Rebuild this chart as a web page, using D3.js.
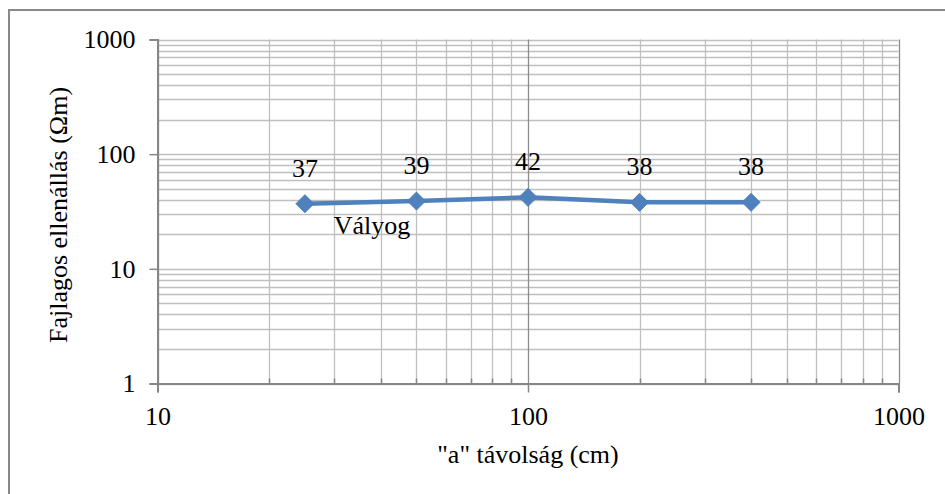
<!DOCTYPE html>
<html><head><meta charset="utf-8">
<script src="https://cdn.jsdelivr.net/npm/d3@7"></script>
<style>
html,body{margin:0;padding:0;background:#fff;}
svg{display:block;}
</style></head>
<body><svg id="chart" width="945" height="494"></svg>
<script>
const distances = [25, 50, 100, 200, 400];
const resistivity = [37, 39, 42, 38, 38];
const seriesName = "Vályog";
const xTickValues = [10, 100, 1000];
const yTickValues = [1, 10, 100, 1000];
const xTitle = '"a" távolság (cm)';
const yTitle = "Fajlagos ellenállás (Ωm)";

const W = 945, H = 494;
const FONT = "26px";
const m = {left: 157.5, right: 898.5, top: 39.5, bottom: 383.5};
const svg = d3.select("#chart");

function styleText(sel) {
  return sel.style("font-family", "'Liberation Serif', 'Times New Roman'").style("font-size", FONT).attr("fill", "#000");
}

svg.append("path").attr("d", `M9,${H} L9,10 L${W},10`).attr("fill","none")
  .attr("stroke","#888").attr("stroke-width",2);

const x = d3.scaleLog().domain([10,1000]).range([m.left, m.right]);
const y = d3.scaleLog().domain([1,1000]).range([m.bottom, m.top]);

const minorX = [], minorY = [];
for (let d = 10; d < 1000; d *= 10) for (let k = 2; k <= 9; k++) minorX.push(d*k);
for (let d = 1; d < 1000; d *= 10) for (let k = 2; k <= 9; k++) minorY.push(d*k);

const grid = svg.append("g");
grid.selectAll(".hy").data(minorY.concat(yTickValues)).join("line")
  .attr("x1", m.left).attr("x2", m.right)
  .attr("y1", d => Math.round(y(d))+0.5).attr("y2", d => Math.round(y(d))+0.5)
  .attr("stroke", "#bfbfbf").attr("stroke-width", 1.3);
grid.selectAll(".vx").data(minorX.concat(xTickValues)).join("line")
  .attr("x1", d => Math.round(x(d))+0.5).attr("x2", d => Math.round(x(d))+0.5)
  .attr("y1", m.top).attr("y2", m.bottom)
  .attr("stroke", d => xTickValues.includes(d) ? "#8c8c8c" : "#bfbfbf")
  .attr("stroke-width", 1.3);

const xAxis = svg.append("g").attr("transform", `translate(0,${m.bottom})`)
  .call(d3.axisBottom(x).tickValues(xTickValues).tickFormat(d3.format("d")).tickSize(9).tickPadding(14));
xAxis.attr("font-family", null).attr("font-size", null);
xAxis.select(".domain").attr("stroke","#868686").attr("stroke-width",2);
xAxis.selectAll(".tick line").attr("stroke","#868686").attr("stroke-width",1.5);
styleText(xAxis.selectAll("text"));
svg.append("g").selectAll("line").data(minorX).join("line")
  .attr("x1", d => Math.round(x(d))+0.5).attr("x2", d => Math.round(x(d))+0.5)
  .attr("y1", m.bottom).attr("y2", m.bottom-5)
  .attr("stroke","#868686").attr("stroke-width",1.5);

const yAxis = svg.append("g").attr("transform", `translate(${m.left},0)`)
  .call(d3.axisLeft(y).tickValues(yTickValues).tickFormat(d3.format("d")).tickSize(8).tickPadding(14));
yAxis.attr("font-family", null).attr("font-size", null);
yAxis.select(".domain").attr("stroke","#868686").attr("stroke-width",2);
yAxis.selectAll(".tick line").attr("stroke","#868686").attr("stroke-width",1.5);
styleText(yAxis.selectAll("text"));

const pts = distances.map((d,i) => [d, resistivity[i]]);
svg.append("path").datum(pts)
  .attr("d", d3.line().x(d => x(d[0])).y(d => y(d[1])))
  .attr("fill","none").attr("stroke","#4f81bd").attr("stroke-width",4.5)
  .attr("stroke-linejoin","round");
svg.append("g").selectAll("path").data(pts).join("path")
  .attr("transform", d => `translate(${x(d[0])},${y(d[1])})`)
  .attr("d", "M0,-9 L9,0 L0,9 L-9,0 Z")
  .attr("fill","#4f81bd").attr("stroke","#4a7ebb").attr("stroke-width",1);
styleText(svg.append("g").selectAll("text").data(pts).join("text")
  .attr("x", d => x(d[0])).attr("y", d => y(d[1]) - 27)
  .attr("text-anchor","middle")
  .text(d => d3.format("d")(d[1])));

styleText(svg.append("text").attr("x", 372).attr("y", 234).attr("text-anchor","middle").text(seriesName));

styleText(svg.append("text").attr("x", (m.left+m.right)/2).attr("y", 463).attr("text-anchor","middle").text(xTitle));
styleText(svg.append("text").attr("transform", "translate(67,215) rotate(-90)").attr("text-anchor","middle").text(yTitle));
</script></body></html>
